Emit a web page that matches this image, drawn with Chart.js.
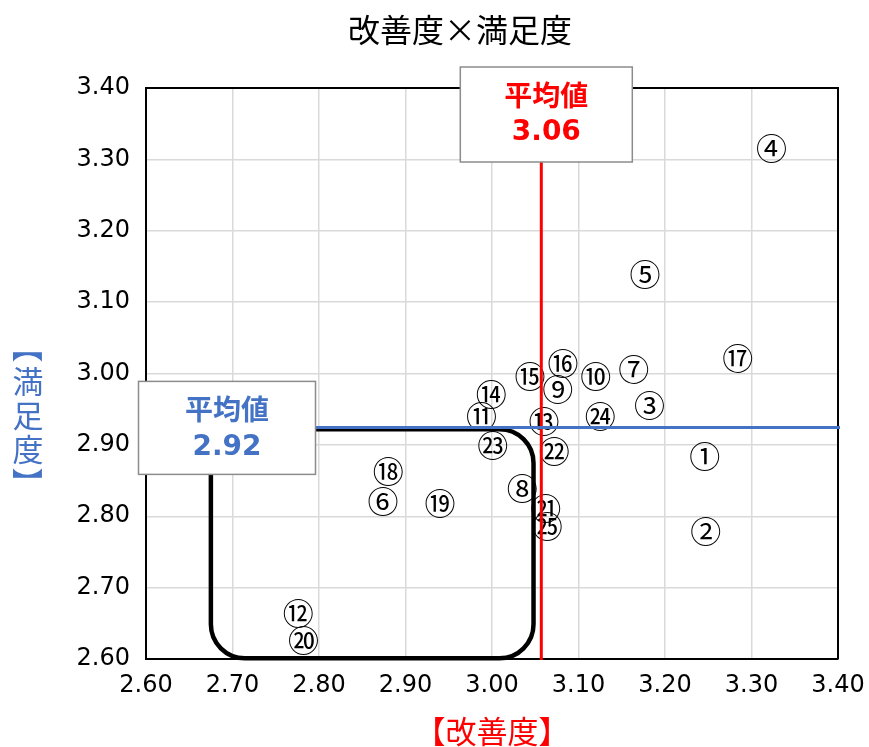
<!DOCTYPE html>
<html><head><meta charset="utf-8">
<script src="https://cdn.jsdelivr.net/npm/chart.js@4.4.1/dist/chart.umd.min.js"></script>
<style>html,body{margin:0;padding:0;background:#fff;}#wrap{width:869px;height:747px;position:relative;}canvas{display:block;}</style>
</head><body><div id="wrap"><canvas id="c" width="869" height="747"></canvas></div>
<script>
// ---- data ----
const pointLabels = ['①','②','③','④','⑤','⑥','⑦','⑧','⑨','⑩','⑪','⑫','⑬','⑭','⑮','⑯','⑰','⑱','⑲','⑳','㉑','㉒','㉓','㉔','㉕'];
const improvement  = [3.246,3.247,3.182,3.323,3.177,2.874,3.164,3.035,3.076,3.120,2.988,2.776,3.060,2.999,3.044,3.082,3.284,2.880,2.940,2.782,3.062,3.072,3.001,3.125,3.064];
const satisfaction = [2.885,2.781,2.957,3.317,3.141,2.823,3.008,2.841,2.980,2.997,2.941,2.666,2.935,2.973,2.998,3.016,3.023,2.864,2.819,2.628,2.813,2.892,2.901,2.941,2.787];
const xTickValues = [2.60,2.70,2.80,2.90,3.00,3.10,3.20,3.30,3.40];
const yTickValues = [2.60,2.70,2.80,2.90,3.00,3.10,3.20,3.30,3.40];
const avgImprovement = 3.057;
const avgSatisfaction = 2.9245;
const focusRegion = {xMin: 2.675, xMax: 3.048, yMin: 2.601, yMax: 2.922};
const chartTitle = '改善度×満足度';
const xTitle = '【改善度】';
const yTitleChars = ['【','満','足','度','】'];
const avgLabel = '平均値';

const CJK = '"Noto Sans CJK JP", sans-serif';
const NUM = '"DejaVu Sans", sans-serif';

const points = improvement.map((x, i) => ({x: x, y: satisfaction[i]}));

const overlay = {
  id: 'overlay',
  afterDatasetsDraw(chart) {
    const ctx = chart.ctx, a = chart.chartArea;
    const xs = chart.scales.x, ys = chart.scales.y;
    ctx.save();
    // frame top/right
    ctx.strokeStyle = '#000'; ctx.lineWidth = 2;
    ctx.beginPath();
    ctx.moveTo(a.left, a.top); ctx.lineTo(a.right, a.top); ctx.lineTo(a.right, a.bottom);
    ctx.stroke();
    // point labels
    const meta = chart.getDatasetMeta(0);
    ctx.font = '31px ' + CJK;
    ctx.fillStyle = '#000';
    ctx.textAlign = 'center'; ctx.textBaseline = 'middle';
    meta.data.forEach((el, i) => { ctx.fillText(pointLabels[i], el.x, el.y + 1); });
    // focus rounded rect
    const l = xs.getPixelForValue(focusRegion.xMin), r = xs.getPixelForValue(focusRegion.xMax);
    const t = ys.getPixelForValue(focusRegion.yMax), b = ys.getPixelForValue(focusRegion.yMin);
    ctx.lineWidth = 4.5; ctx.strokeStyle = '#000';
    ctx.beginPath(); ctx.roundRect(l, t, r - l, b - t, 34); ctx.stroke();
    // average lines
    const ax = xs.getPixelForValue(avgImprovement), ay = ys.getPixelForValue(avgSatisfaction);
    ctx.lineWidth = 3;
    ctx.strokeStyle = '#FF0000';
    ctx.beginPath(); ctx.moveTo(ax, a.top); ctx.lineTo(ax, a.bottom + 1); ctx.stroke();
    ctx.strokeStyle = '#4472C4';
    ctx.beginPath(); ctx.moveTo(a.left, ay); ctx.lineTo(a.right + 2, ay); ctx.stroke();
    // boxes
    function box(cx, top, w, h, color, val) {
      ctx.fillStyle = '#fff'; ctx.fillRect(cx - w/2, top, w, h);
      ctx.strokeStyle = '#8c8c8c'; ctx.lineWidth = 1.5; ctx.strokeRect(cx - w/2, top, w, h);
      ctx.fillStyle = color; ctx.textAlign = 'center'; ctx.textBaseline = 'middle';
      ctx.font = 'bold 28px ' + CJK; ctx.fillText(avgLabel, cx, top + 28);
      ctx.font = 'bold 28px ' + NUM; ctx.fillText(val.toFixed(2), cx, top + 66);
    }
    box(ax + 5, a.top - 21, 172, 95, '#FF0000', avgImprovement);
    box(a.left + 81, ay - 46, 177, 93, '#4472C4', avgSatisfaction);
    // titles
    ctx.fillStyle = '#000'; ctx.font = '32px ' + CJK; ctx.textAlign = 'center'; ctx.textBaseline = 'middle';
    ctx.fillText(chartTitle, 460, 30);
    ctx.fillStyle = '#FF0000'; ctx.font = '31px ' + CJK;
    ctx.fillText(xTitle, (a.left + a.right) / 2, 731);
    ctx.fillStyle = '#4472C4'; ctx.font = '31px ' + CJK;
    yTitleChars.forEach((ch, i) => {
      const cy = 347 + i * 34;
      if (ch === '【' || ch === '】') {
        ctx.save(); ctx.translate(28, cy); ctx.rotate(Math.PI / 2); ctx.fillText(ch, 0, 0); ctx.restore();
      } else ctx.fillText(ch, 28, cy);
    });
    ctx.restore();
  }
};

new Chart(document.getElementById('c'), {
  type: 'scatter',
  data: { datasets: [{ data: points, pointRadius: 0, pointHoverRadius: 0 }] },
  options: {
    responsive: false, animation: false, devicePixelRatio: 1,
    layout: { padding: { top: 88, right: 31, left: 0, bottom: 0 } },
    plugins: { legend: { display: false }, tooltip: { enabled: false }, title: { display: false } },
    scales: {
      x: {
        type: 'linear', min: 2.6, max: 3.4,
        afterBuildTicks: s => { s.ticks = xTickValues.map(v => ({ value: v })); },
        afterFit: s => { s.height = 88; s.paddingRight = 0; s.paddingLeft = 0; },
        ticks: { callback: v => Number(v).toFixed(2), color: '#000', font: { family: NUM, size: 24 }, padding: 12, maxRotation: 0, autoSkip: false },
        grid: { color: '#d9d9d9', lineWidth: 1.5, drawTicks: false },
        border: { display: true, color: '#000', width: 2 }
      },
      y: {
        type: 'linear', min: 2.6, max: 3.4,
        afterBuildTicks: s => { s.ticks = yTickValues.map(v => ({ value: v })); },
        afterFit: s => { s.width = 146; s.paddingTop = 0; s.paddingBottom = 0; },
        ticks: { callback: v => Number(v).toFixed(2), color: '#000', font: { family: NUM, size: 24 }, padding: 16, autoSkip: false },
        grid: { color: '#d9d9d9', lineWidth: 1.5, drawTicks: false },
        border: { display: true, color: '#000', width: 2 }
      }
    }
  },
  plugins: [overlay]
});
</script></body></html>
